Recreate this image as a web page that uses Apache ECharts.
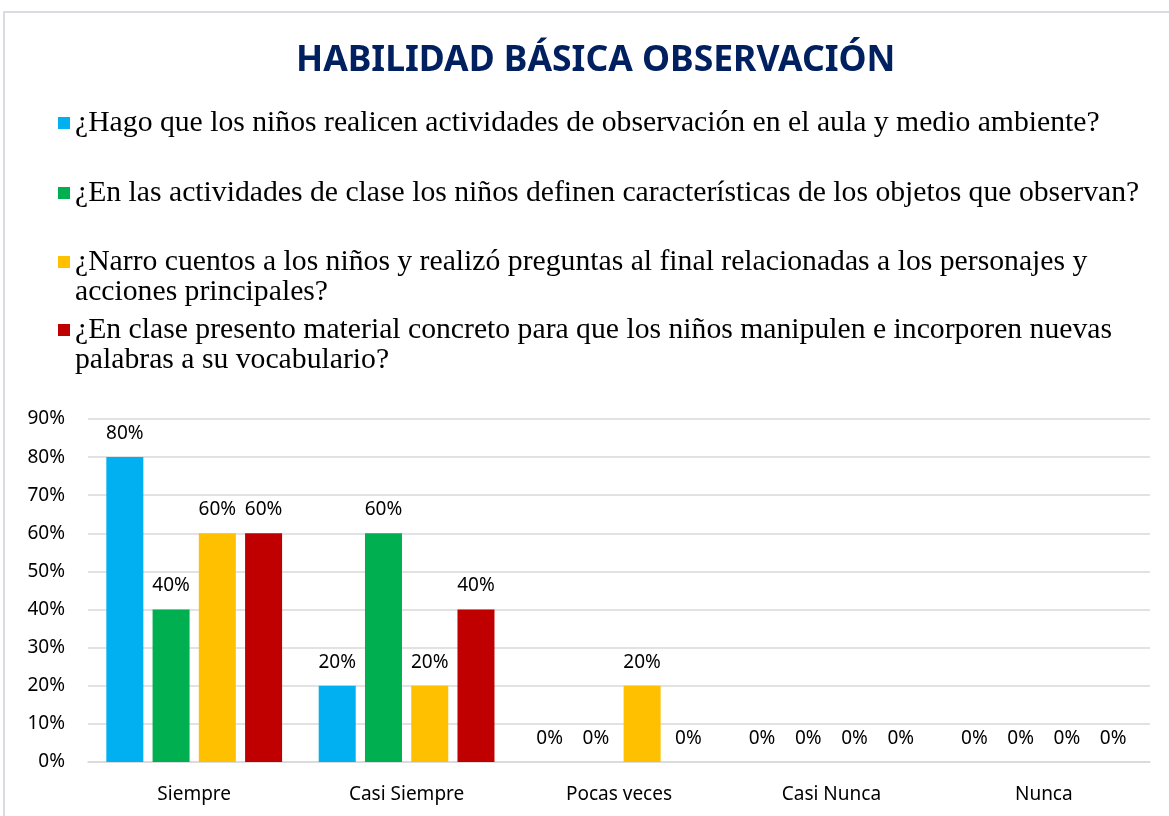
<!DOCTYPE html>
<html>
<head>
<meta charset="utf-8">
<script src="https://cdn.jsdelivr.net/npm/echarts@6/dist/echarts.min.js"></script>
<style>
    html, body { margin: 0; padding: 0; background: #fff; }
    #chart { width: 1169px; height: 816px; }
</style>
</head>
<body>
<div id="chart"></div>
<script>
// categorías del eje x
const categorias = ['Siempre', 'Casi Siempre', 'Pocas veces', 'Casi Nunca', 'Nunca'];

// preguntas (series)
const preguntas = [
    '¿Hago que los niños realicen actividades de observación en el aula y medio ambiente?',
    '¿En las actividades de clase los niños definen características de los objetos que observan?',
    '¿Narro cuentos a los niños y realizó preguntas al final relacionadas a los personajes y acciones principales?',
    '¿En clase presento material concreto para que los niños manipulen e incorporen nuevas palabras a su vocabulario?'
];

// palabra tras la cual se corta la línea en la leyenda ('' = una sola línea)
const cortes = ['', '', 'personajes y', 'nuevas'];

// porcentajes por pregunta
const pregunta1 = [80, 20, 0, 0, 0];
const pregunta2 = [40, 60, 0, 0, 0];
const pregunta3 = [60, 20, 20, 0, 0];
const pregunta4 = [60, 40, 0, 0, 0];

const colores = ['#00B0F0', '#00B050', '#FFC000', '#C00000'];

const chart = echarts.init(document.getElementById('chart'));

const valores = [pregunta1, pregunta2, pregunta3, pregunta4];

// posición vertical de cada leyenda
const leyendaTop = [108, 178, 247, 315];

// cuadro alto con el cuadrado arriba, para que quede junto a la primera línea
const iconoAlto = 'path://M0,0L12,0L12,12L0,12Z M0,42L0.01,42';

let legends = [];
let series = [];
preguntas.forEach((p, i) => {
    const dosLineas = cortes[i] !== '';
    legends.push({
        data: [p],
        left: 58,
        top: leyendaTop[i],
        icon: dosLineas ? iconoAlto : 'rect',
        itemWidth: 12,
        itemHeight: dosLineas ? 42 : 12,
        selectedMode: false,
        padding: 0,
        formatter: (name) => {
            if (!dosLineas) return name;
            const k = name.indexOf(cortes[i]) + cortes[i].length;
            return name.slice(0, k) + '\n' + name.slice(k + 1);
        },
        textStyle: {
            fontFamily: 'Liberation Serif',
            fontSize: 29.7,
            color: '#000',
            lineHeight: 30
        }
    });
    series.push({
        name: p,
        type: 'bar',
        data: valores[i],
        barWidth: 37,
        barGap: '25%',
        itemStyle: { color: colores[i] },
        label: {
            show: true,
            position: 'top',
            distance: 14,
            formatter: '{c}%',
            fontFamily: 'Noto Sans',
            fontSize: 19,
            color: '#000'
        }
    });
});

const option = {
    animation: false,
    color: colores,
    title: {
        text: 'HABILIDAD BÁSICA OBSERVACIÓN',
        left: 291,
        top: 38,
        textStyle: {
            fontFamily: 'Noto Sans',
            fontWeight: 'bold',
            fontSize: 35.5,
            color: '#002060'
        }
    },
    legend: legends,
    grid: {
        left: 88,
        right: 19,
        top: 419,
        bottom: 54
    },
    xAxis: {
        type: 'category',
        data: categorias,
        axisTick: { show: false },
        axisLine: { lineStyle: { color: '#D9D9D9', width: 1.5 } },
        axisLabel: {
            margin: 23,
            fontFamily: 'Noto Sans',
            fontSize: 19,
            color: '#000'
        }
    },
    yAxis: {
        type: 'value',
        min: 0,
        max: 90,
        interval: 10,
        axisLine: { show: false },
        axisTick: { show: false },
        axisLabel: {
            formatter: '{value}%',
            margin: 23,
            fontFamily: 'Noto Sans',
            fontSize: 19,
            color: '#000'
        },
        splitLine: { lineStyle: { color: '#D9D9D9', width: 1.5 } }
    },
    graphic: [
        {
            type: 'rect',
            shape: { x: 4, y: 12, width: 1200, height: 900 },
            style: { fill: 'none', stroke: '#D9DDE3', lineWidth: 2 },
            silent: true
        }
    ],
    series: series
};

chart.setOption(option);
</script>
</body>
</html>
